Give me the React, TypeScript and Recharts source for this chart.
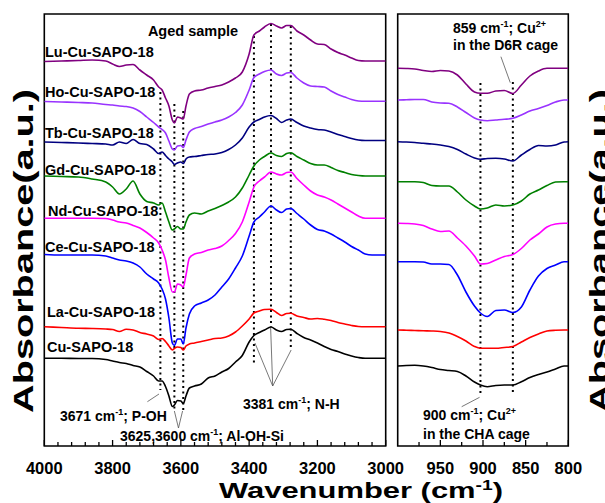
import React from 'react';
import { LineChart, Line, XAxis, YAxis, ReferenceLine, ReferenceArea } from 'recharts';

const FONT = "'Liberation Sans', Arial, Helvetica, sans-serif";

// ---- Hydroxyl / N-H stretching region (cm-1) ----
const ohWavenumbers = [
  4000, 3950, 3900, 3860, 3820, 3800, 3780, 3760, 3740, 3720, 3700, 3680, 3665, 3655, 3645, 3635, 3625,
  3619, 3610, 3600, 3593, 3585, 3575, 3560, 3540, 3520, 3500, 3480, 3460, 3440, 3420, 3400, 3386, 3370,
  3355, 3336, 3320, 3305, 3290, 3278, 3260, 3240, 3220, 3200, 3180, 3160, 3140, 3120, 3100, 3080, 3060,
  3040, 3000,
];

// Stacked absorbance traces (a.u., each with its own vertical offset)
const luOH = [3.845, 3.85, 3.855, 3.86, 3.85, 3.82, 3.795, 3.81, 3.815, 3.76, 3.71, 3.66, 3.59, 3.56, 3.48, 3.4, 3.26, 3.23, 3.29, 3.28, 3.27, 3.4, 3.52, 3.55, 3.56, 3.58, 3.595, 3.61, 3.64, 3.68, 3.74, 3.92, 4.11, 4.15, 4.19, 4.225, 4.2, 4.18, 4.205, 4.205, 4.15, 4.11, 4.06, 4.02, 4.015, 3.97, 3.935, 3.91, 3.88, 3.855, 3.85, 3.85, 3.85];
const hoOH = [3.445, 3.44, 3.435, 3.43, 3.415, 3.41, 3.4, 3.395, 3.38, 3.345, 3.29, 3.235, 3.19, 3.165, 3.13, 3.05, 2.97, 2.96, 3.0, 3.005, 2.985, 3.06, 3.14, 3.175, 3.195, 3.22, 3.24, 3.26, 3.29, 3.335, 3.41, 3.56, 3.685, 3.72, 3.745, 3.76, 3.72, 3.705, 3.73, 3.735, 3.68, 3.63, 3.6, 3.595, 3.59, 3.55, 3.515, 3.49, 3.465, 3.45, 3.447, 3.447, 3.447];
const tbOH = [3.04, 3.035, 3.03, 3.025, 3.02, 3.01, 3.04, 3.025, 3.065, 3.025, 3.015, 2.97, 2.925, 2.94, 2.905, 2.87, 2.84, 2.815, 2.83, 2.84, 2.825, 2.87, 2.89, 2.895, 2.905, 2.915, 2.92, 2.935, 2.965, 3.01, 3.08, 3.19, 3.24, 3.265, 3.29, 3.305, 3.275, 3.235, 3.26, 3.27, 3.235, 3.2, 3.18, 3.165, 3.16, 3.14, 3.115, 3.095, 3.075, 3.06, 3.055, 3.055, 3.055];
const gdOH = [2.7, 2.695, 2.69, 2.67, 2.64, 2.59, 2.52, 2.57, 2.65, 2.52, 2.445, 2.43, 2.41, 2.43, 2.34, 2.24, 2.16, 2.17, 2.195, 2.17, 2.17, 2.24, 2.31, 2.33, 2.32, 2.35, 2.375, 2.405, 2.44, 2.49, 2.58, 2.71, 2.8, 2.86, 2.895, 2.93, 2.905, 2.895, 2.925, 2.933, 2.895, 2.86, 2.825, 2.81, 2.81, 2.785, 2.755, 2.735, 2.715, 2.705, 2.7, 2.7, 2.7];
const ndOH = [2.277, 2.277, 2.277, 2.277, 2.275, 2.26, 2.24, 2.23, 2.205, 2.18, 2.135, 2.08, 2.03, 1.96, 1.86, 1.68, 1.54, 1.54, 1.62, 1.61, 1.59, 1.71, 1.88, 1.92, 1.935, 1.96, 1.975, 2.0, 2.055, 2.125, 2.24, 2.44, 2.59, 2.65, 2.69, 2.74, 2.72, 2.71, 2.735, 2.74, 2.675, 2.61, 2.55, 2.51, 2.49, 2.46, 2.42, 2.38, 2.34, 2.3, 2.277, 2.277, 2.277];
const ceOH = [1.915, 1.91, 1.91, 1.91, 1.9, 1.88, 1.86, 1.85, 1.83, 1.79, 1.72, 1.67, 1.63, 1.57, 1.47, 1.28, 1.03, 1.005, 1.07, 1.07, 1.02, 1.18, 1.32, 1.4, 1.43, 1.46, 1.51, 1.59, 1.67, 1.78, 1.9, 2.1, 2.24, 2.29, 2.34, 2.4, 2.36, 2.335, 2.37, 2.375, 2.325, 2.27, 2.21, 2.165, 2.15, 2.12, 2.08, 2.04, 1.995, 1.96, 1.92, 1.91, 1.91];
const laOH = [1.193, 1.185, 1.177, 1.175, 1.17, 1.165, 1.145, 1.167, 1.16, 1.135, 1.12, 1.1, 1.065, 1.075, 1.045, 1.0, 0.96, 0.975, 0.99, 0.985, 0.96, 1.0, 1.02, 1.03, 1.045, 1.06, 1.075, 1.08, 1.1, 1.14, 1.2, 1.27, 1.33, 1.35, 1.365, 1.367, 1.335, 1.305, 1.325, 1.327, 1.3, 1.285, 1.27, 1.275, 1.267, 1.255, 1.235, 1.22, 1.205, 1.195, 1.193, 1.193, 1.193];
const cuOH = [0.877, 0.877, 0.875, 0.875, 0.865, 0.85, 0.835, 0.825, 0.805, 0.79, 0.745, 0.7, 0.65, 0.65, 0.595, 0.5, 0.395, 0.41, 0.455, 0.45, 0.425, 0.5, 0.58, 0.6, 0.62, 0.68, 0.7, 0.74, 0.775, 0.84, 0.905, 1.04, 1.105, 1.135, 1.16, 1.19, 1.16, 1.145, 1.165, 1.167, 1.125, 1.085, 1.06, 1.03, 0.995, 0.965, 0.945, 0.92, 0.9, 0.885, 0.877, 0.877, 0.877];

// ---- T-O-T vibration region perturbed by Cu2+ (cm-1) ----
const totWavenumbers = [1000, 990, 980, 970, 960, 950, 940, 930, 920, 910, 903, 895, 885, 875, 865, 855, 845, 835, 825, 815, 805, 800];

const luTOT = [3.777, 3.775, 3.77, 3.755, 3.745, 3.755, 3.75, 3.71, 3.62, 3.54, 3.527, 3.527, 3.55, 3.555, 3.525, 3.61, 3.7, 3.75, 3.777, 3.777, 3.777, 3.777];
const hoTOT = [3.46, 3.462, 3.465, 3.465, 3.44, 3.43, 3.427, 3.39, 3.335, 3.28, 3.26, 3.253, 3.26, 3.267, 3.277, 3.31, 3.35, 3.375, 3.405, 3.44, 3.46, 3.46];
const tbTOT = [3.043, 3.04, 3.035, 3.027, 3.02, 3.01, 2.995, 2.965, 2.92, 2.88, 2.867, 2.875, 2.877, 2.87, 2.85, 2.91, 2.965, 3.005, 3.0, 3.01, 3.04, 3.043];
const gdTOT = [2.643, 2.643, 2.643, 2.635, 2.605, 2.6, 2.6, 2.54, 2.46, 2.4, 2.37, 2.38, 2.41, 2.4, 2.41, 2.45, 2.52, 2.56, 2.605, 2.64, 2.643, 2.643];
const ndTOT = [2.227, 2.225, 2.22, 2.205, 2.17, 2.145, 2.15, 2.08, 2.0, 1.9, 1.82, 1.825, 1.86, 1.895, 1.915, 1.975, 2.06, 2.12, 2.19, 2.22, 2.227, 2.227];
const ceTOT = [1.843, 1.843, 1.843, 1.84, 1.82, 1.82, 1.815, 1.71, 1.54, 1.4, 1.33, 1.295, 1.355, 1.36, 1.335, 1.39, 1.56, 1.7, 1.775, 1.81, 1.843, 1.843];
const laTOT = [1.16, 1.158, 1.155, 1.152, 1.15, 1.145, 1.13, 1.095, 1.05, 0.995, 0.977, 0.977, 0.977, 0.985, 0.995, 1.04, 1.085, 1.12, 1.15, 1.157, 1.16, 1.16];
const cuTOT = [0.8, 0.805, 0.807, 0.8, 0.785, 0.765, 0.755, 0.745, 0.7, 0.64, 0.61, 0.593, 0.605, 0.61, 0.61, 0.643, 0.685, 0.715, 0.74, 0.77, 0.8, 0.8];

const sampleNames = ['Lu-Cu-SAPO-18', 'Ho-Cu-SAPO-18', 'Tb-Cu-SAPO-18', 'Gd-Cu-SAPO-18', 'Nd-Cu-SAPO-18', 'Ce-Cu-SAPO-18', 'La-Cu-SAPO-18', 'Cu-SAPO-18'];
const sampleKeys = ['Lu', 'Ho', 'Tb', 'Gd', 'Nd', 'Ce', 'La', 'Cu'];
const sampleColors = ['#800080', '#9933ff', '#000080', '#008000', '#ff00ff', '#0000ff', '#ff0000', '#000000'];
const ohSeries = [luOH, hoOH, tbOH, gdOH, ndOH, ceOH, laOH, cuOH];
const totSeries = [luTOT, hoTOT, tbTOT, gdTOT, ndTOT, ceTOT, laTOT, cuTOT];

// Axis ticks
const ohMajorTicks = [4000, 3800, 3600, 3400, 3200, 3000];
const ohTicks: number[] = [];
for (let w = 4000; w >= 3000; w -= 40) ohTicks.push(w);
const totMajorTicks = [950, 900, 850, 800];
const totTicks = [975, 950, 925, 900, 875, 850, 825, 800];

// Band positions marked with dotted guides: [wavenumber, top, bottom]
const ohGuides = [
  [3660, 3.54, 0.56],
  [3619, 3.42, 0.36],
  [3593, 3.35, 0.36],
  [3386, 4.1, 0.83],
  [3336, 4.22, 1.19],
  [3278, 4.2, 0.96],
];
const totGuides = [
  [903, 3.63, 0.5],
  [865, 3.64, 0.51],
];

// Thin leader lines from annotations to bands: [[w1, a1], [w2, a2]]
const ohLeaders = [
  [[3698, 0.443], [3664, 0.52]],
  [[3619, 0.35], [3607, 0.18]],
  [[3595, 0.35], [3607, 0.18]],
  [[3383, 1.03], [3331, 0.6]],
  [[3337, 1.18], [3331, 0.6]],
  [[3277, 0.96], [3331, 0.6]],
];
const totLeaders = [
  [[879, 3.893], [868, 3.633]],
  [[925, 0.393], [904, 0.487]],
];

const Y_DOMAIN: [number, number] = [0, 4.32];

const buildRows = (wavenumbers: number[], series: number[][]) =>
  wavenumbers.map((w, i) => {
    const row: Record<string, number> = { w };
    sampleKeys.forEach((k, j) => {
      row[k] = series[j][i];
    });
    return row;
  });

const ohRows = buildRows(ohWavenumbers, ohSeries);
const totRows = buildRows(totWavenumbers, totSeries);

function makeTick(majors: number[]) {
  return (props: any) => {
    const { x, y, payload } = props;
    const isMajor = majors.includes(payload.value);
    return (
      <g>
        <line x1={x} x2={x} y1={y} y2={y - (isMajor ? 6 : 4)} stroke="#000" strokeWidth={1.3} />
        {isMajor && (
          <text x={x} y={y + 27.5} textAnchor="middle" fontFamily={FONT} fontWeight="bold" fontSize={16.5} fill="#000">
            {payload.value}
          </text>
        )}
      </g>
    );
  };
}

interface PanelProps {
  width: number;
  height: number;
  margin: { top: number; right: number; bottom: number; left: number };
  rows: Record<string, number>[];
  domain: [number, number];
  ticks: number[];
  majors: number[];
  guides: number[][];
  leaders: number[][][];
}

function SpectraPanel({ width, height, margin, rows, domain, ticks, majors, guides, leaders }: PanelProps) {
  return (
    <LineChart width={width} height={height} data={rows} margin={margin}>
      <XAxis
        dataKey="w"
        type="number"
        domain={domain}
        reversed
        allowDataOverflow
        ticks={ticks}
        interval={0}
        tickSize={0}
        tickMargin={0}
        axisLine={false}
        tickLine={false}
        height={57}
        tick={makeTick(majors)}
      />
      <YAxis type="number" domain={Y_DOMAIN} hide allowDataOverflow />
      {guides.map(([w, top, bottom], i) => (
        <ReferenceLine
          key={`g${i}`}
          segment={[{ x: w, y: top }, { x: w, y: bottom }]}
          stroke="#000"
          strokeWidth={2}
          strokeDasharray="2 3.5"
          ifOverflow="visible"
        />
      ))}
      {leaders.map(([p, q], i) => (
        <ReferenceLine
          key={`l${i}`}
          segment={[{ x: p[0], y: p[1] }, { x: q[0], y: q[1] }]}
          stroke="#555"
          strokeWidth={0.8}
          ifOverflow="visible"
        />
      ))}
      {sampleKeys.map((k, i) => (
        <Line
          key={k}
          dataKey={k}
          type="monotone"
          stroke={sampleColors[i]}
          strokeWidth={1.6}
          dot={false}
          activeDot={false}
          isAnimationActive={false}
        />
      ))}
      <ReferenceArea
        x1={domain[1]}
        x2={domain[0]}
        y1={Y_DOMAIN[0]}
        y2={Y_DOMAIN[1]}
        fill="none"
        fillOpacity={0}
        stroke="#000"
        strokeWidth={1.6}
        ifOverflow="visible"
      />
    </LineChart>
  );
}

const labelStyle = { fontFamily: FONT, fontWeight: 'bold' as const, fill: '#000' };

function Sup({ children }: { children: React.ReactNode }) {
  return (
    <tspan dy={-6} fontSize={9}>
      {children}
    </tspan>
  );
}

// Baseline positions (px) of the sample names next to each trace
const sampleLabelPos = [
  [45, 57],
  [45, 97],
  [45, 138],
  [45, 174.5],
  [48, 216],
  [45, 252],
  [47, 317],
  [47, 352],
];

export default function App() {
  return (
    <div style={{ position: 'absolute', left: 0, top: 0, width: 605, height: 503, background: '#fff', overflow: 'hidden' }}>
      <div style={{ position: 'absolute', left: 0, top: 0 }}>
        <SpectraPanel
          width={420}
          height={503}
          margin={{ top: 14, right: 34.3, bottom: 0, left: 44.3 }}
          rows={ohRows}
          domain={[3000, 4000]}
          ticks={ohTicks}
          majors={ohMajorTicks}
          guides={ohGuides}
          leaders={ohLeaders}
        />
      </div>
      <div style={{ position: 'absolute', left: 380, top: 0 }}>
        <SpectraPanel
          width={225}
          height={503}
          margin={{ top: 14, right: 36.7, bottom: 0, left: 17.7 }}
          rows={totRows}
          domain={[800, 1000]}
          ticks={totTicks}
          majors={totMajorTicks}
          guides={totGuides}
          leaders={totLeaders}
        />
      </div>
      <svg width={605} height={503} style={{ position: 'absolute', left: 0, top: 0, pointerEvents: 'none' }}>
        {sampleNames.map((name, i) => (
          <text key={name} x={sampleLabelPos[i][0]} y={sampleLabelPos[i][1]} fontSize={14.5} {...labelStyle}>
            {name}
          </text>
        ))}
        <text x={193} y={36} textAnchor="middle" fontSize={14.5} {...labelStyle}>
          Aged sample
        </text>
        <text x={60} y={421} fontSize={14} {...labelStyle}>
          3671 cm<Sup>-1</Sup>
          <tspan dy={6}>; P-OH</tspan>
        </text>
        <text x={120} y={441} fontSize={14} {...labelStyle}>
          3625,3600 cm<Sup>-1</Sup>
          <tspan dy={6}>; Al-OH-Si</tspan>
        </text>
        <text x={243} y={408.5} fontSize={14} {...labelStyle}>
          3381 cm<Sup>-1</Sup>
          <tspan dy={6}>; N-H</tspan>
        </text>
        <text x={453} y={32.5} fontSize={14} {...labelStyle}>
          859 cm<Sup>-1</Sup>
          <tspan dy={6}>; Cu</tspan>
          <Sup>2+</Sup>
        </text>
        <text x={453} y={50} fontSize={14} {...labelStyle}>
          in the D6R cage
        </text>
        <text x={423} y={420} fontSize={14} {...labelStyle}>
          900 cm<Sup>-1</Sup>
          <tspan dy={6}>; Cu</tspan>
          <Sup>2+</Sup>
        </text>
        <text x={423} y={438.5} fontSize={14} {...labelStyle}>
          in the CHA cage
        </text>
        <text
          x={219}
          y={498}
          fontSize={22.5}
          textLength={284}
          lengthAdjust="spacingAndGlyphs"
          {...labelStyle}
        >
          Wavenumber (cm<tspan dy={-8} fontSize={14}>-1</tspan>
          <tspan dy={8}>)</tspan>
        </text>
        <text
          transform="translate(33,413) rotate(-90)"
          fontSize={28}
          textLength={324}
          lengthAdjust="spacingAndGlyphs"
          {...labelStyle}
        >
          Absorbance(a.u.)
        </text>
        <text
          transform="translate(609,413) rotate(-90)"
          fontSize={28}
          textLength={324}
          lengthAdjust="spacingAndGlyphs"
          {...labelStyle}
        >
          Absorbance(a.u.)
        </text>
      </svg>
    </div>
  );
}
